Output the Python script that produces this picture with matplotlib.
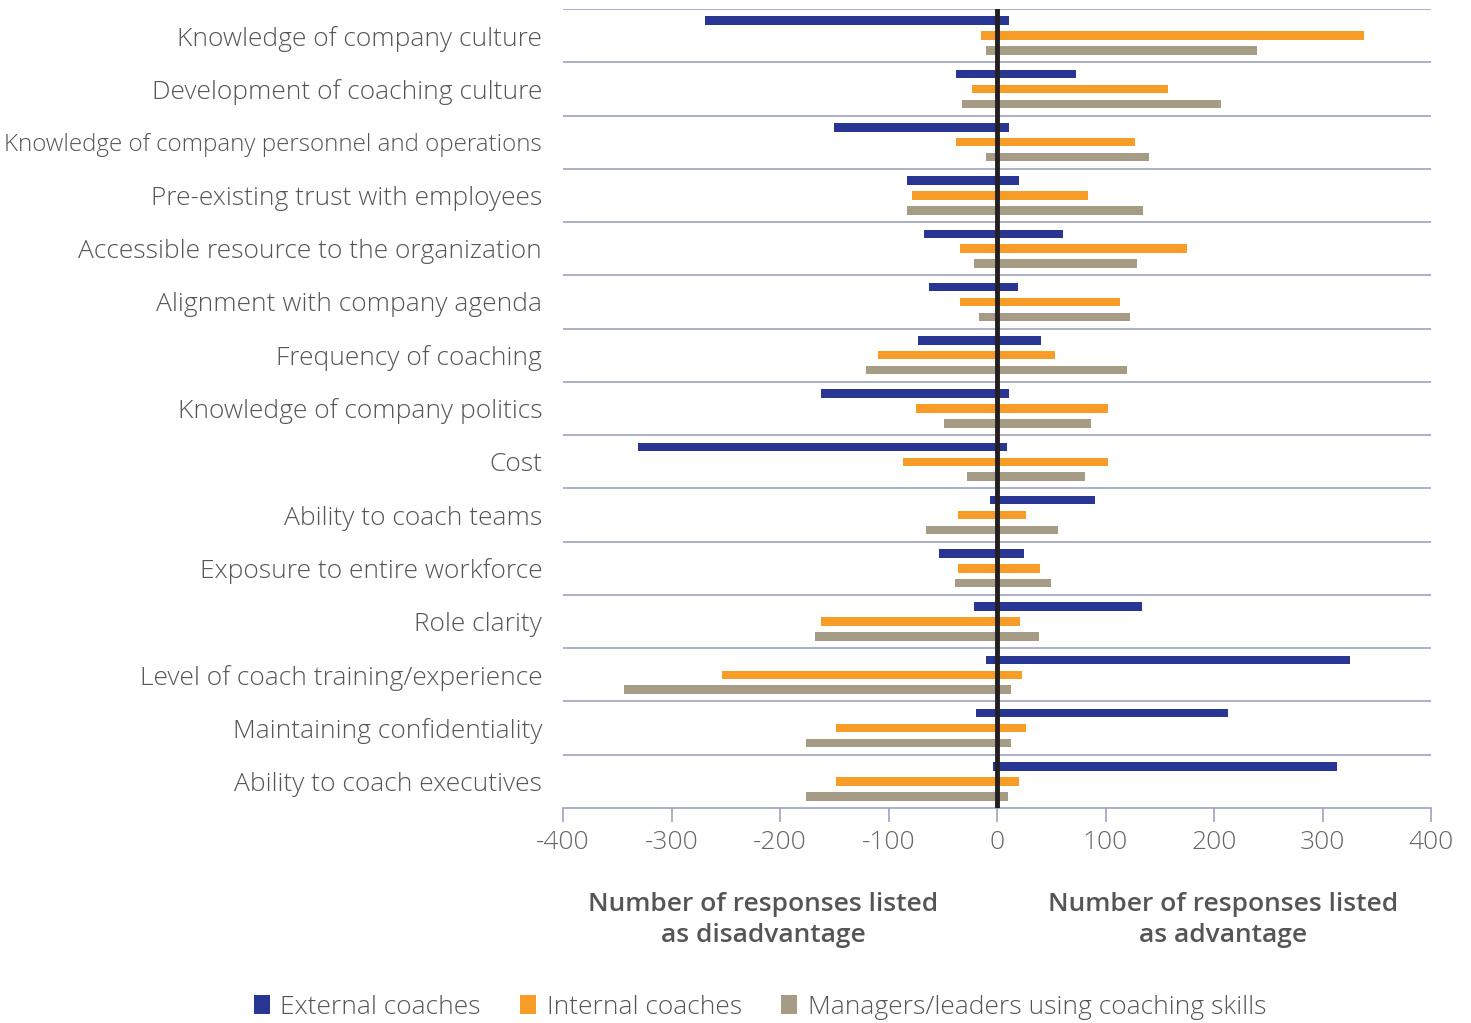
import numpy as np
import matplotlib.pyplot as plt
from matplotlib.patches import Patch

plt.rcParams['font.family'] = ['Open Sans', 'DejaVu Sans']
plt.rcParams['axes.unicode_minus'] = False

categories = [
    "Knowledge of company culture",
    "Development of coaching culture",
    "Knowledge of company personnel and operations",
    "Pre-existing trust with employees",
    "Accessible resource to the organization",
    "Alignment with company agenda",
    "Frequency of coaching",
    "Knowledge of company politics",
    "Cost",
    "Ability to coach teams",
    "Exposure to entire workforce",
    "Role clarity",
    "Level of coach training/experience",
    "Maintaining confidentiality",
    "Ability to coach executives",
]

# disadvantage counts (drawn to the left) and advantage counts (to the right)
external_dis = [269, 38, 150, 83, 67, 63, 73, 162, 331, 6, 53, 21, 10, 19, 4]
external_adv = [11, 73, 11, 20, 61, 19, 41, 11, 9, 90, 25, 134, 325, 213, 313]
internal_dis = [15, 23, 38, 78, 34, 34, 110, 75, 87, 36, 36, 162, 253, 148, 148]
internal_adv = [338, 158, 127, 84, 175, 113, 53, 102, 102, 27, 40, 21, 23, 27, 20]
managers_dis = [10, 32, 10, 83, 21, 17, 121, 49, 28, 65, 39, 168, 344, 176, 176]
managers_adv = [240, 206, 140, 135, 129, 123, 120, 87, 81, 56, 50, 39, 13, 13, 10]

series = ["External coaches", "Internal coaches", "Managers/leaders using coaching skills"]
colors = ["#283593", "#f89c28", "#a69c86"]

fig = plt.figure(figsize=(14.71, 10.23), dpi=100)
ax = fig.add_axes([563 / 1471, 1 - 808 / 1023, 868 / 1471, 799 / 1023])

y = np.arange(len(categories))
offsets = [-0.28, 0.0, 0.28]
h = 0.16
data = [(external_dis, external_adv), (internal_dis, internal_adv), (managers_dis, managers_adv)]
for (dis, adv), off, c in zip(data, offsets, colors):
    ax.barh(y + off, -np.array(dis), height=h, color=c, zorder=2)
    ax.barh(y + off, adv, height=h, color=c, zorder=2)

for i in range(len(categories)):
    ax.axhline(i - 0.5, color="#9da3bd", lw=1.2, zorder=1)

ax.axvline(0, color="#231f20", lw=3.5, zorder=3)

ax.set_xlim(-400, 400)
ax.set_ylim(len(categories) - 0.5, -0.5)
ax.set_xticks(range(-400, 401, 100))
ax.set_yticks(y)
ax.set_yticklabels(categories)
for s in ["top", "left", "right"]:
    ax.spines[s].set_visible(False)
ax.spines["bottom"].set_color("#9da3bd")
ax.spines["bottom"].set_linewidth(1.2)
ax.tick_params(axis="x", colors="#9da3bd", length=10, width=1.2, labelsize=19,
               labelcolor="#666666", pad=6)
ax.tick_params(axis="y", length=0, labelsize=19, labelcolor="#555555", pad=15)
for lbl in ax.get_xticklabels() + ax.get_yticklabels():
    lbl.set_fontweight("light")
# the long label is set a little tighter so it fits the page
ax.get_yticklabels()[2].set_fontsize(17.4)

fig.text(763 / 1471, 1 - 920 / 1023, "Number of responses listed\nas disadvantage",
         ha="center", va="center", fontsize=19, fontweight="semibold", color="#555555",
         linespacing=1.32)
fig.text(1223 / 1471, 1 - 920 / 1023, "Number of responses listed\nas advantage",
         ha="center", va="center", fontsize=19, fontweight="semibold", color="#555555",
         linespacing=1.32)

handles = [Patch(facecolor=c) for c in colors]
leg = fig.legend(handles, series, loc="center", bbox_to_anchor=(760 / 1471, 1 - 1007 / 1023),
                 ncol=3, frameon=False, handlelength=0.6, handleheight=0.7,
                 handletextpad=0.4, columnspacing=1.5, prop={"size": 19, "weight": "light"})
for t in leg.get_texts():
    t.set_color("#555555")

fig.savefig("out.png", dpi=100)
